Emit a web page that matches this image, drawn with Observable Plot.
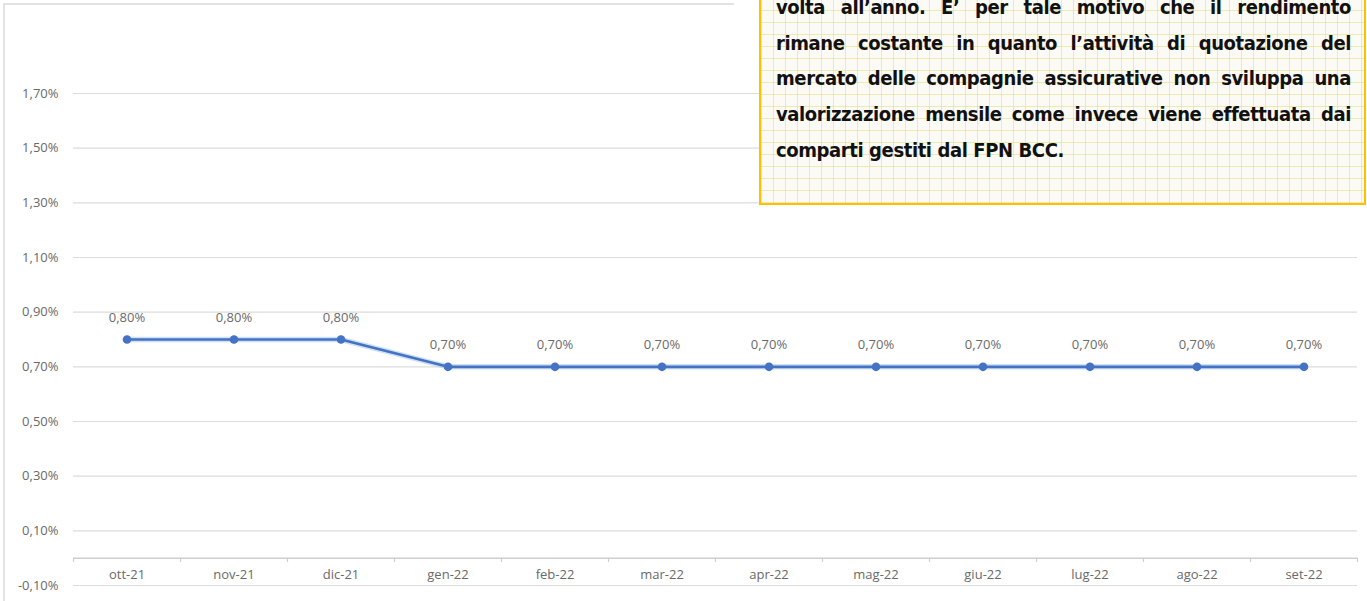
<!DOCTYPE html>
<html>
<head>
<meta charset="utf-8">
<script src="https://cdn.jsdelivr.net/npm/d3@7"></script>
<script src="https://cdn.jsdelivr.net/npm/@observablehq/plot@0.6"></script>
<style>
  html, body { margin: 0; padding: 0; background: #fff; overflow: hidden; }
  body { width: 1367px; height: 601px; position: relative; }
  #frame {
    position: absolute; left: 3px; top: 3px; width: 729px; height: 700px;
    border-left: 2px solid #e2e2e2; border-top: 2px solid #e2e2e2;
  }
  #chart { position: absolute; left: 0; top: 0; }
  #note {
    position: absolute; left: 759px; top: -40px; width: 607px; height: 245px;
    border: 2px solid #ffc000;
    background-color: #fcfaf4;
    background-image:
      repeating-linear-gradient(0deg, rgba(225,222,120,0.55) 0 1px, transparent 1px 12px),
      repeating-linear-gradient(90deg, rgba(225,222,120,0.55) 0 1px, transparent 1px 12px);
    box-sizing: border-box;
  }
  #note .txt {
    position: absolute; left: 15px; right: 13px; top: 28px;
    font-family: "Liberation Sans Narrow", "DejaVu Sans Condensed", "DejaVu Sans", sans-serif;
    font-stretch: condensed;
    font-weight: bold; font-size: 20px; letter-spacing: -0.4px; line-height: 35.7px; color: #111;
  }
  #note .line { text-align: justify; text-align-last: justify; white-space: nowrap; }
  #note .line.last { text-align-last: left; }
</style>
</head>
<body>
<div id="frame"></div>
<div id="chart"></div>
<div id="note"><div class="txt"></div></div>
<script>
const months = ["ott-21","nov-21","dic-21","gen-22","feb-22","mar-22","apr-22","mag-22","giu-22","lug-22","ago-22","set-22"];
const values = [0.80, 0.80, 0.80, 0.70, 0.70, 0.70, 0.70, 0.70, 0.70, 0.70, 0.70, 0.70];
const yTicks = [-0.1, 0.1, 0.3, 0.5, 0.7, 0.9, 1.1, 1.3, 1.5, 1.7];
const noteLines = [
  "volta all’anno. E’ per tale motivo che il rendimento",
  "rimane costante in quanto l’attività di quotazione del",
  "mercato delle compagnie assicurative non sviluppa una",
  "valorizzazione mensile come invece viene effettuata dai",
  "comparti gestiti dal FPN BCC."
];

const data = months.map((m, i) => ({i, m, v: values[i]}));
const bounds = d3.range(-0.5, months.length, 1);
const fmt = v => v.toFixed(2).replace(".", ",") + "%";
const font = "'Open Sans', 'Liberation Sans', sans-serif";

const chart = Plot.plot({
  width: 1367,
  height: 601,
  marginLeft: 73,
  marginRight: 10,
  marginTop: 93,
  marginBottom: 16,
  style: {fontFamily: font, background: "transparent", overflow: "visible"},
  x: {domain: [-0.5, months.length - 0.5], axis: null},
  y: {domain: [-0.1, 1.7], axis: null},
  marks: [
    Plot.ruleY(yTicks, {stroke: "#dcdcdc", strokeWidth: 1.2}),
    Plot.ruleY([0], {stroke: "#cfcfcf", strokeWidth: 1.5}),
    Plot.ruleX(bounds, {x: d => d, y1: 0, y2: -0.016, stroke: "#cfcfcf", strokeWidth: 1.2}),
    Plot.text(yTicks, {
      x: -0.5, y: d => d, text: d => fmt(d), textAnchor: "end", dx: -15,
      fill: "#6a6a6a", fontSize: 13
    }),
    Plot.text(data, {
      x: "i", y: 0, text: "m", dy: 17, fill: "#6a6a6a", fontSize: 13
    }),
    Plot.line(data, {x: "i", y: "v", stroke: "#9dc3e6", strokeWidth: 5.5, strokeOpacity: 0.5}),
    Plot.line(data, {x: "i", y: "v", stroke: "#4472c4", strokeWidth: 2.6}),
    Plot.dot(data, {x: "i", y: "v", r: 4.3, fill: "#4472c4", stroke: "none"}),
    Plot.text(data, {
      x: "i", y: "v", text: d => fmt(d.v), dy: -22, fill: "#6a6a6a", fontSize: 13
    })
  ]
});
document.getElementById("chart").appendChild(chart);

const txt = document.querySelector("#note .txt");
noteLines.forEach((t, k) => {
  const div = document.createElement("div");
  div.className = "line" + (k === noteLines.length - 1 ? " last" : "");
  div.textContent = t;
  txt.appendChild(div);
});
</script>
</body>
</html>
